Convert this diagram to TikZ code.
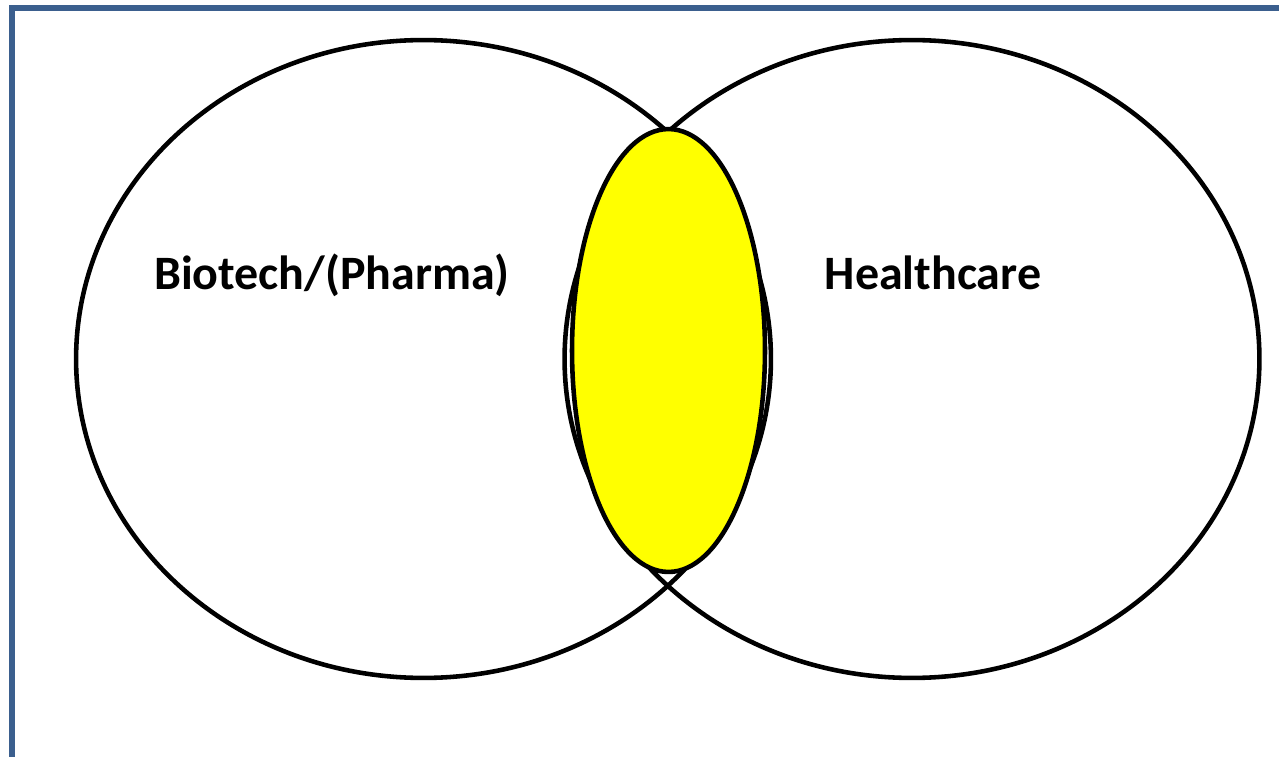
\documentclass[tikz,border=0pt]{standalone}
\usepackage{fontspec}
\setmainfont{Carlito}
\usepackage{tikz}
\usetikzlibrary{shapes.geometric}
\definecolor{framecol}{HTML}{3B5F8E}
\definecolor{lensyellow}{RGB}{255,255,0}

\begin{document}
\begin{tikzpicture}[
  x=0.02cm, y=-0.02cm,
  frame/.style={draw=framecol, line width=3.2pt},
  venn/.style={draw, ellipse, line width=2.6pt, inner sep=0pt,
    minimum width=13.9cm, minimum height=12.76cm},
  overlap/.style={draw, fill=lensyellow, ellipse, line width=2.6pt, inner sep=0pt,
    minimum width=3.86cm, minimum height=8.86cm},
  label/.style={anchor=base, font=\fontsize{27.3}{32}\selectfont\bfseries}
]
\useasboundingbox (0,0) rectangle (1279,757);
\coordinate (tl) at (12,8);
\coordinate (tr) at (1285,8);
\coordinate (bl) at (12,765);
\draw[frame] (tr) -- (tl) -- (bl);
\node[venn] (bio) at (423.5,359) {};
\node[venn] (health) at (912,359) {};
\node[overlap] (both) at (668.5,350.5) {};
\node[label] (biolabel) at (332,289) {Biotech/(Pharma)};
\node[label] (healthlabel) at (933,289) {Healthcare};
\end{tikzpicture}
\end{document}
